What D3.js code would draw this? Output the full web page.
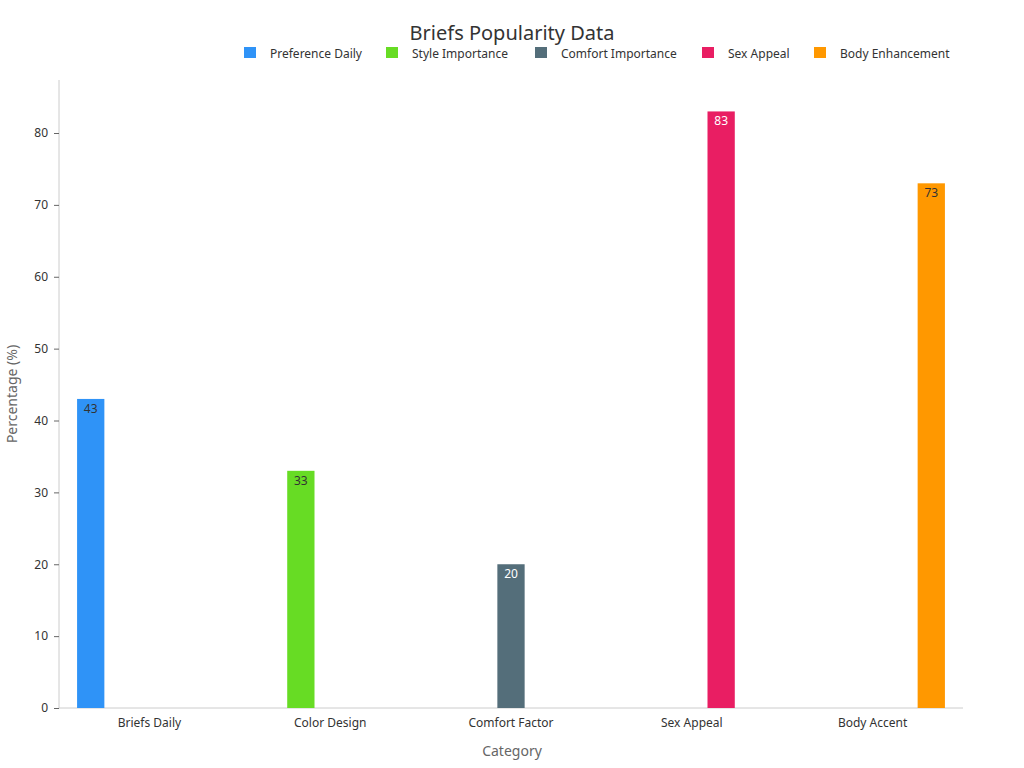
<!DOCTYPE html><html><head><meta charset="utf-8"><script src="https://cdn.jsdelivr.net/npm/d3@7"></script>
<style>body{margin:0;background:#fff;font-family:"Noto Sans","DejaVu Sans",sans-serif}</style></head><body><svg id="c" width="1024" height="768"></svg>
<script>
const categories=["Briefs Daily","Color Design","Comfort Factor","Sex Appeal","Body Accent"];
const seriesNames=["Preference Daily","Style Importance","Comfort Importance","Sex Appeal","Body Enhancement"];
const seriesValues=[43,33,20,83,73];
const colors=["#2f93f7","#67dc24","#546e7a","#e91e63","#ff9800"];
const labelColors=["#333","#333","#fff","#fff","#333"];
const yTicks=[0,10,20,30,40,50,60,70,80];
const svg=d3.select("#c");
const L=59,R=963,B=708;
const y=d3.scaleLinear().domain([0,80]).range([B,133]);
const x=d3.scaleBand().domain(categories).range([L,R]).paddingInner(0.2).paddingOuter(0.1);
const xs=d3.scaleBand().domain(seriesNames).range([0,x.bandwidth()]).paddingInner(0.07);
const xFull=d3.scaleBand().domain(categories).range([L,R]);
svg.append("text").attr("x",512).attr("y",40).attr("text-anchor","middle").attr("font-size",20).attr("fill","#333").text("Briefs Popularity Data");
// axes
const ya=svg.append("g").attr("transform",`translate(${L},0)`).call(d3.axisLeft(y).tickValues(yTicks).tickSize(5).tickPadding(6));
ya.select(".domain").attr("d",`M0,${B}V80`).attr("stroke","#ccc");
ya.selectAll("line").attr("stroke","#666");
ya.selectAll("text").attr("font-size",12).attr("fill","#333").attr("font-family","Noto Sans");
const xa=svg.append("g").attr("transform",`translate(0,${B})`).call(d3.axisBottom(xFull).tickSize(0).tickPadding(10));
xa.select(".domain").attr("d",`M${L},0H${R}`).attr("stroke","#ccc");
xa.selectAll("text").attr("font-size",12).attr("fill","#333").attr("font-family","Noto Sans");
svg.append("text").attr("x",512).attr("y",756).attr("text-anchor","middle").attr("font-size",14).attr("fill","#666").text("Category");
svg.append("text").attr("transform","translate(17,394) rotate(-90)").attr("text-anchor","middle").attr("font-size",14).attr("fill","#666").text("Percentage (%)");
// bars
categories.forEach((c,i)=>{
  const bx=x(c)+xs(seriesNames[i]);
  svg.append("rect").attr("x",bx).attr("y",y(seriesValues[i])).attr("width",xs.bandwidth()).attr("height",B-y(seriesValues[i])).attr("fill",colors[i]);
  svg.append("text").attr("x",bx+xs.bandwidth()/2).attr("y",y(seriesValues[i])+14).attr("text-anchor","middle").attr("font-size",12).attr("fill",labelColors[i]).text(seriesValues[i]);
});
// legend
const lx=[244,386,535,702,814];
seriesNames.forEach((n,i)=>{
  svg.append("rect").attr("x",lx[i]).attr("y",47).attr("width",12).attr("height",11).attr("fill",colors[i]);
  svg.append("text").attr("x",lx[i]+26).attr("y",58).attr("font-size",12).attr("fill","#333").text(n);
});
</script></body></html>
